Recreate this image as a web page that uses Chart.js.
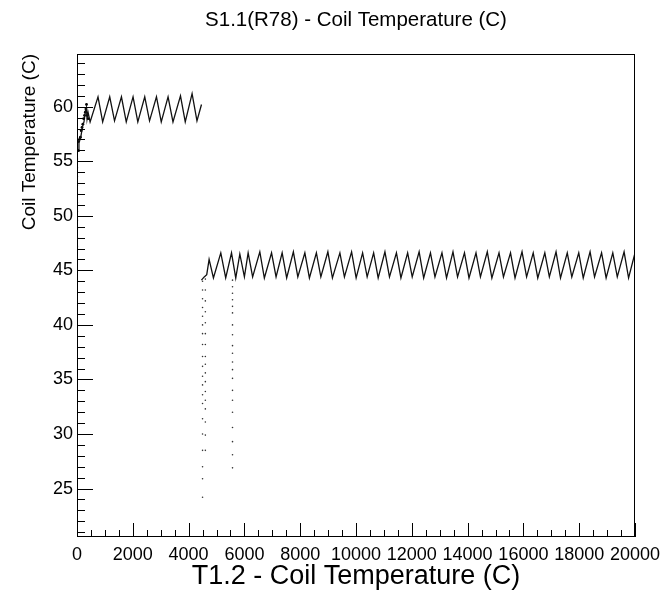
<!DOCTYPE html>
<html>
<head>
<meta charset="utf-8">
<script src="https://cdn.jsdelivr.net/npm/chart.js@4.4.1/dist/chart.umd.min.js"></script>
<style>
  html, body { margin: 0; padding: 0; background: #fff; }
  #wrap { width: 671px; height: 598px; }
</style>
</head>
<body>
<div id="wrap"><canvas id="coil-chart" width="671" height="598"></canvas></div>
<script>
// tick labels
const xTicks = [0, 2000, 4000, 6000, 8000, 10000, 12000, 14000, 16000, 18000, 20000];
const yTicks = [25, 30, 35, 40, 45, 50, 55, 60];

// first run: warm-up ramp then sawtooth near 60 C
const runAx = [36, 70, 130, 160, 200, 250, 276, 300, 337, 360, 395, 470, 753, 920, 1173, 1345, 1593, 1765, 2009, 2180, 2428, 2600, 2848, 3020, 3264, 3440, 3709, 3880, 4125, 4300, 4462];
const runAy = [55.9, 56.9, 57.1, 57.6, 58.2, 58.6, 59.1, 59.6, 59.9, 58.9, 59.5, 58.6, 60.9, 58.6, 60.9, 58.7, 60.9, 58.6, 60.9, 58.6, 60.9, 58.7, 60.9, 58.6, 60.9, 58.6, 61.0, 58.6, 61.2, 58.7, 60.2];

// dense cluster of readings during warm-up
const rampX = [40, 60, 90, 120, 150, 180, 210, 240, 270, 300, 320, 340, 370, 400];
const rampY = [56.0, 56.8, 57.0, 57.2, 57.8, 58.1, 58.4, 58.9, 59.2, 59.5, 59.8, 60.2, 59.2, 58.9];

// second run: sawtooth near 45 C
const runBx = [4460, 4560, 4650, 4735, 4890, 5154, 5330, 5538, 5690, 5836, 6000, 6134, 6295, 6553, 6715, 6973, 7135, 7353, 7515, 7755, 7915, 8167, 8330, 8580, 8740, 8992, 9155, 9423, 9585, 9842, 10005, 10237, 10400, 10632, 10795, 11037, 11200, 11449, 11610, 11851, 12015, 12263, 12425, 12669, 12830, 13081, 13245, 13476, 13640, 13888, 14050, 14301, 14460, 14706, 14870, 15126, 15285, 15538, 15700, 15951, 16115, 16352, 16515, 16768, 16930, 17170, 17330, 17572, 17735, 17984, 18145, 18390, 18550, 18802, 18965, 19204, 19365, 19609, 19770, 20000];
const runBy = [44.1, 44.4, 44.6, 46.0, 44.3, 46.6, 44.3, 46.6, 44.3, 46.5, 44.4, 46.6, 44.4, 46.7, 44.3, 46.6, 44.4, 46.6, 44.3, 46.7, 44.4, 46.6, 44.3, 46.6, 44.4, 46.7, 44.3, 46.6, 44.4, 46.7, 44.3, 46.6, 44.4, 46.6, 44.3, 46.7, 44.4, 46.6, 44.3, 46.6, 44.4, 46.7, 44.3, 46.6, 44.4, 46.6, 44.3, 46.7, 44.4, 46.6, 44.3, 46.6, 44.4, 46.7, 44.3, 46.6, 44.4, 46.6, 44.3, 46.7, 44.4, 46.6, 44.3, 46.6, 44.4, 46.7, 44.3, 46.6, 44.4, 46.6, 44.3, 46.7, 44.4, 46.6, 44.3, 46.6, 44.4, 46.7, 44.3, 46.6];

// isolated dots: readings falling away at restarts
const dropX = [15, 15, 15, 15, 15, 15, 15, 15, 15, 15, 15,
  4500, 4500, 4500, 4500, 4500, 4500, 4500, 4500, 4500, 4500, 4500, 4500, 4500, 4500, 4500, 4500, 4500, 4500, 4500, 4500,
  4600, 4600, 4600, 4600, 4600, 4600, 4600, 4600, 4600, 4600, 4600, 4600, 4600, 4600, 4600, 4600, 4600,
  5574, 5574, 5574, 5574, 5574, 5574, 5574, 5574, 5574, 5574, 5574, 5574, 5574, 5574, 5574, 5574, 5574, 5574, 5574, 5574];
const dropY = [55.2, 54.4, 53.6, 52.8, 52.0, 51.2, 50.4, 49.6, 48.8, 48.0, 47.2,
  44.0, 43.2, 42.4, 41.6, 40.8, 40.0, 39.2, 38.2, 37.1, 36.2, 35.3, 34.5, 33.6, 32.8, 31.4, 30.0, 28.5, 27.0, 25.9, 24.2,
  44.2, 43.2, 42.2, 41.2, 40.2, 39.2, 38.2, 37.1, 36.4, 35.6, 34.8, 33.9, 33.1, 32.3, 31.1, 29.9, 28.5,
  44.1, 43.5, 42.9, 42.3, 41.7, 41.1, 40.0, 39.1, 38.1, 37.4, 36.6, 35.9, 35.1, 34.0, 33.1, 32.0, 30.6, 29.3, 28.1, 26.9];

const FONT = '"Liberation Sans", Arial, Helvetica, sans-serif';

function toPoints(xs, ys) {
  return xs.map((x, i) => ({ x: x, y: ys[i] }));
}

// ROOT style frame with ticks pointing inwards
const frameTicks = {
  id: 'frameTicks',
  afterDraw(chart) {
    const { ctx, chartArea: a, scales: { x, y } } = chart;
    ctx.save();
    ctx.strokeStyle = '#000';
    ctx.lineWidth = 1;
    ctx.strokeRect(a.left + 0.5, a.top + 0.5, a.right - a.left - 1, a.bottom - a.top - 1);
    ctx.beginPath();
    for (let v = 21; v <= 64; v++) {
      const py = Math.round(y.getPixelForValue(v)) + 0.5;
      const len = v % 5 === 0 ? 16 : 8;
      ctx.moveTo(a.left, py);
      ctx.lineTo(a.left + len, py);
    }
    for (let v = 0; v <= 20000; v += 500) {
      const px = Math.round(x.getPixelForValue(v)) + 0.5;
      const len = v % 2000 === 0 ? 14 : 7;
      ctx.moveTo(px, a.bottom);
      ctx.lineTo(px, a.bottom - len);
    }
    ctx.stroke();
    ctx.restore();
  }
};

new Chart(document.getElementById('coil-chart'), {
  type: 'scatter',
  data: {
    datasets: [
      {
        data: toPoints(runAx, runAy),
        showLine: true,
        borderColor: '#111',
        borderWidth: 1.3,
        pointRadius: 0,
        tension: 0,
      },
      {
        data: toPoints(rampX, rampY),
        showLine: false,
        pointRadius: 1.4,
        pointBorderWidth: 0,
        pointBackgroundColor: '#000',
      },
      {
        data: toPoints(runBx, runBy),
        showLine: true,
        borderColor: '#111',
        borderWidth: 1.3,
        pointRadius: 0,
        tension: 0,
      },
      {
        data: toPoints(dropX, dropY),
        showLine: false,
        pointRadius: 0.8,
        pointBorderWidth: 0,
        pointBackgroundColor: '#333',
      },
    ],
  },
  options: {
    responsive: false,
    animation: false,
    layout: { padding: { left: 0, right: 36, top: 0, bottom: 0 } },
    plugins: {
      legend: { display: false },
      tooltip: { enabled: false },
      title: {
        display: true,
        text: 'S1.1(R78) - Coil Temperature (C)',
        fullSize: false,
        color: '#000',
        font: { family: FONT, size: 20.5, weight: 'normal', lineHeight: 1.2 },
        padding: { top: 8, bottom: 21.4 },
      },
    },
    scales: {
      x: {
        type: 'linear',
        min: 0,
        max: 20000,
        grid: { display: false, drawTicks: false },
        border: { display: false },
        afterBuildTicks: (scale) => { scale.ticks = xTicks.map(v => ({ value: v })); },
        afterFit: (scale) => { scale.height = 61; },
        ticks: {
          autoSkip: false,
          maxRotation: 0,
          padding: 7,
          color: '#000',
          font: { family: FONT, size: 18 },
          callback: (v) => String(v),
        },
        title: {
          display: true,
          text: 'T1.2 - Coil Temperature (C)',
          color: '#000',
          font: { family: FONT, size: 27, lineHeight: 1.2 },
          padding: { top: 0, bottom: 5 },
        },
      },
      y: {
        type: 'linear',
        min: 20.56,
        max: 64.83,
        grid: { display: false, drawTicks: false },
        border: { display: false },
        afterBuildTicks: (scale) => { scale.ticks = yTicks.map(v => ({ value: v })); },
        afterFit: (scale) => { scale.width = 77; },
        ticks: {
          padding: 4,
          color: '#000',
          font: { family: FONT, size: 18 },
          callback: (v) => String(v),
        },
        title: {
          display: true,
          text: 'Coil Temperature (C)',
          align: 'end',
          color: '#000',
          font: { family: FONT, size: 19, lineHeight: 1.2 },
          padding: { top: 18, bottom: 0 },
        },
      },
    },
  },
  plugins: [frameTicks],
});
</script>
</body>
</html>
